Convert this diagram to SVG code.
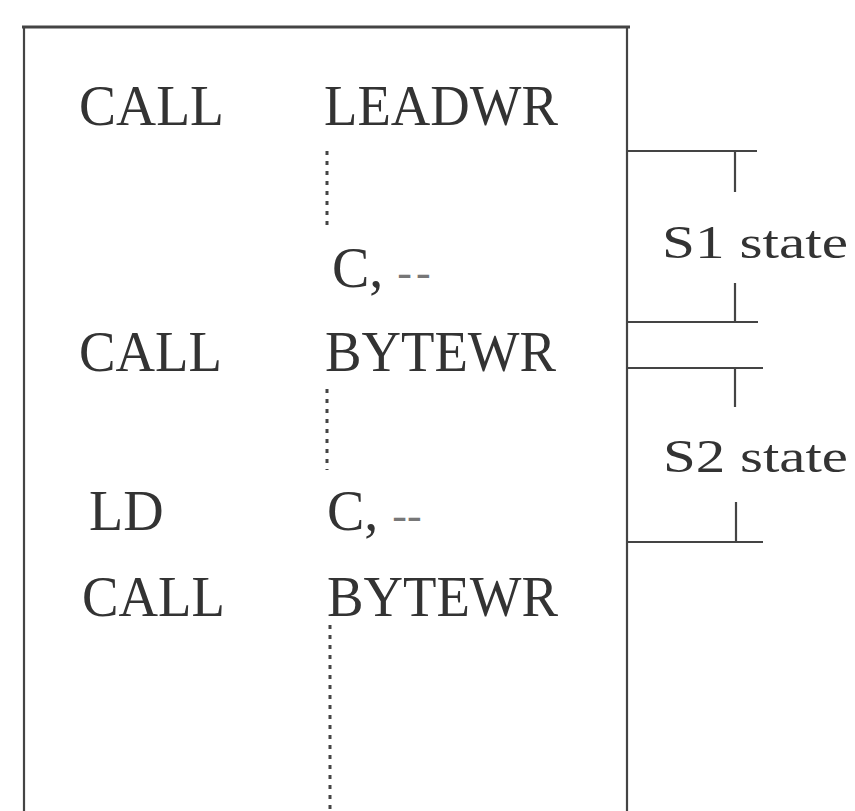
<svg xmlns="http://www.w3.org/2000/svg" width="855" height="811" viewBox="0 0 855 811">
<style>
.t{font-family:"Liberation Serif","Times New Roman",serif;font-size:56px;fill:#333;}
.s{font-family:"Liberation Serif","Times New Roman",serif;font-size:46px;fill:#333;}
.d{fill:#777;font-size:44px;}
.ln{stroke:#444;stroke-width:2.2;fill:none;}
.dot{stroke:#444;stroke-width:3;stroke-dasharray:4 6;fill:none;}
</style>
<rect width="855" height="811" fill="#fff"/>
<g id="box">
<line class="ln" x1="22" y1="27" x2="630" y2="27" style="stroke-width:3"/>
<line class="ln" x1="24" y1="27" x2="24" y2="811"/>
<line class="ln" x1="627" y1="27" x2="627" y2="811"/>
</g>
<g id="code">
<text class="t" x="79" y="125" textLength="145" lengthAdjust="spacingAndGlyphs">CALL</text>
<text class="t" x="324" y="125" textLength="234" lengthAdjust="spacingAndGlyphs">LEADWR</text>
<text class="t" x="332" y="287">C, <tspan class="d" letter-spacing="4">--</tspan></text>
<text class="t" x="79" y="371" textLength="143" lengthAdjust="spacingAndGlyphs">CALL</text>
<text class="t" x="325" y="371" textLength="231" lengthAdjust="spacingAndGlyphs">BYTEWR</text>
<text class="t" x="89" y="530">LD</text>
<text class="t" x="327" y="530">C, <tspan class="d">--</tspan></text>
<text class="t" x="82" y="616" textLength="143" lengthAdjust="spacingAndGlyphs">CALL</text>
<text class="t" x="327" y="616" textLength="231" lengthAdjust="spacingAndGlyphs">BYTEWR</text>
</g>
<g id="connectors">
<line class="dot" x1="327" y1="151" x2="327" y2="230"/>
<line class="dot" x1="327" y1="389" x2="327" y2="470"/>
<line class="dot" x1="330" y1="625" x2="330" y2="811"/>
</g>
<g id="s1">
<line class="ln" x1="627" y1="151" x2="757" y2="151"/>
<line class="ln" x1="735" y1="151" x2="735" y2="192"/>
<line class="ln" x1="735" y1="283" x2="735" y2="322"/>
<line class="ln" x1="627" y1="322" x2="758" y2="322"/>
<text class="s" x="662" y="258" textLength="186" lengthAdjust="spacingAndGlyphs">S1 state</text>
</g>
<g id="s2">
<line class="ln" x1="627" y1="368" x2="763" y2="368"/>
<line class="ln" x1="735" y1="368" x2="735" y2="407"/>
<line class="ln" x1="736" y1="502" x2="736" y2="542"/>
<line class="ln" x1="627" y1="542" x2="763" y2="542"/>
<text class="s" x="663" y="472" textLength="185" lengthAdjust="spacingAndGlyphs">S2 state</text>
</g>
</svg>
